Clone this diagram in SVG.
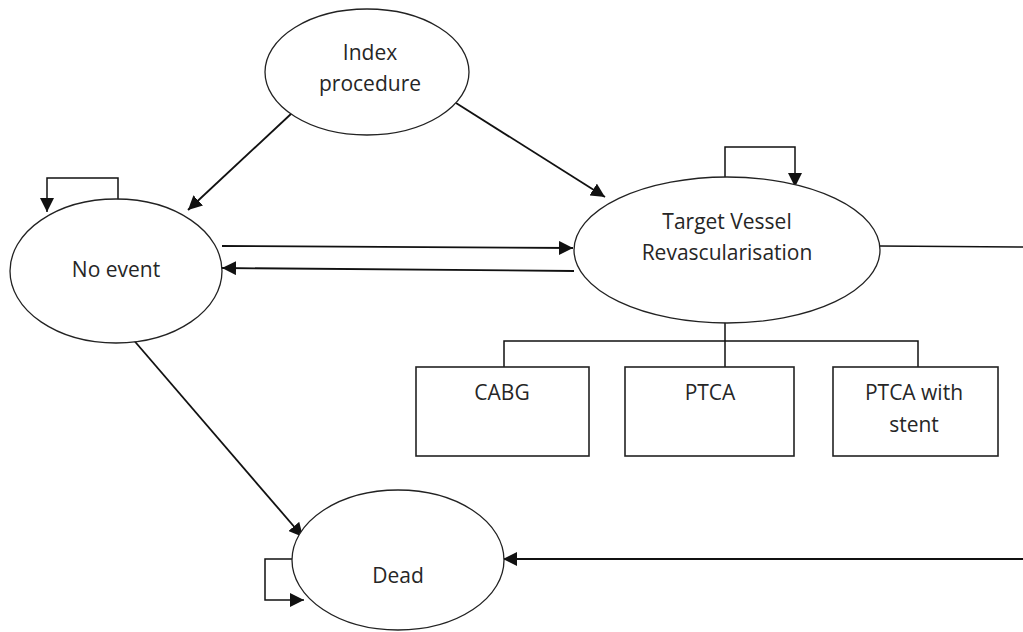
<svg xmlns="http://www.w3.org/2000/svg" width="1023" height="632" viewBox="0 0 1023 632">
<style>
.node{fill:#fff;stroke:#222;stroke-width:1.3}
.box{fill:#fff;stroke:#222;stroke-width:1.6}
.t{font-family:"Open Sans","Liberation Sans",sans-serif;font-size:21px;fill:#262626;text-anchor:middle}
.c{fill:none;stroke:#111;stroke-width:1.8}
.l{fill:none;stroke:#111;stroke-width:1.5}
</style>
<defs>
<marker id="ah" markerUnits="userSpaceOnUse" markerWidth="16" markerHeight="14" refX="14" refY="7" orient="auto">
<path d="M0,0 L14,7 L0,14 Z" fill="#111"/>
</marker>
</defs>
<rect width="1023" height="632" fill="#fff"/>
<g id="connectors">
<path class="c" d="M292,113 L188,210" marker-end="url(#ah)"/>
<path class="c" d="M456,103 L605,197" marker-end="url(#ah)"/>
<path class="c" d="M222,246 L573,248" marker-end="url(#ah)"/>
<path class="c" d="M574,271 L222,268" marker-end="url(#ah)"/>
<path class="c" d="M131,337 L303,537" marker-end="url(#ah)"/>
<path class="l" d="M118,200 V178 H47 V212" marker-end="url(#ah)"/>
<path class="l" d="M725,178 V147 H795 V187" marker-end="url(#ah)"/>
<path class="l" d="M292,559 H265 V600 H304" marker-end="url(#ah)"/>
<path class="l" d="M880,246 L1023,247"/>
<path class="c" d="M1023,559 L503,559" marker-end="url(#ah)"/>
<path class="l" d="M725,322 V367 M504,367 V341 H918 V367"/>
</g>
<g id="index">
<ellipse class="node" cx="367" cy="72" rx="102" ry="63"/>
<text class="t" x="370" y="60">Index</text>
<text class="t" x="370" y="91">procedure</text>
</g>
<g id="noevent">
<ellipse class="node" cx="116" cy="271" rx="106" ry="72"/>
<text class="t" x="116" y="277">No event</text>
</g>
<g id="tvr">
<ellipse class="node" cx="727" cy="250" rx="153" ry="73"/>
<text class="t" x="727" y="229">Target Vessel</text>
<text class="t" x="727" y="260">Revascularisation</text>
</g>
<g id="cabg">
<rect class="box" x="416" y="367" width="173" height="89"/>
<text class="t" x="502" y="400">CABG</text>
</g>
<g id="ptca">
<rect class="box" x="625" y="367" width="169" height="89"/>
<text class="t" x="710" y="400">PTCA</text>
</g>
<g id="ptcastent">
<rect class="box" x="833" y="367" width="165" height="89"/>
<text class="t" x="914" y="400">PTCA with</text>
<text class="t" x="914" y="432">stent</text>
</g>
<g id="dead">
<ellipse class="node" cx="398" cy="560" rx="106" ry="70"/>
<text class="t" x="398" y="583">Dead</text>
</g>
</svg>
